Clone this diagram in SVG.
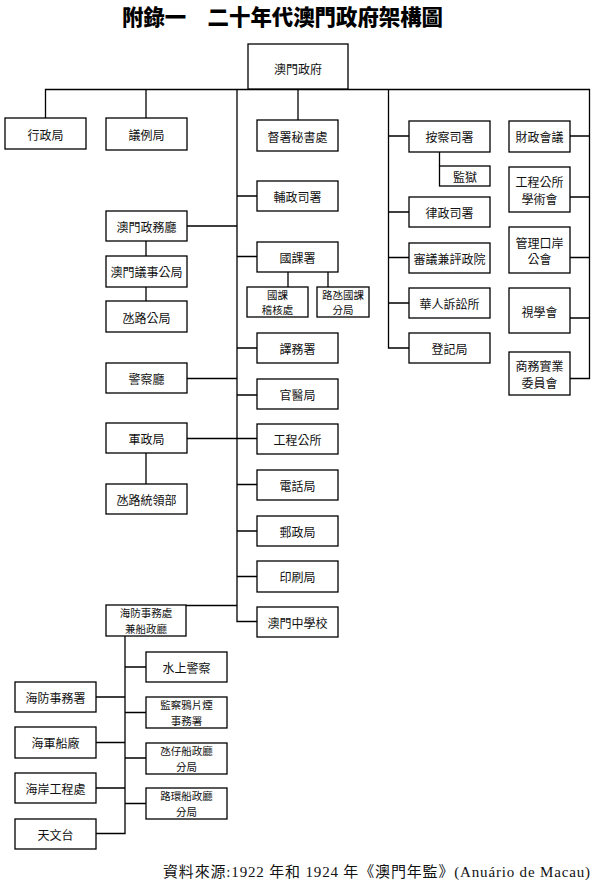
<svg xmlns="http://www.w3.org/2000/svg" width="595" height="891" viewBox="0 0 595 891">
<style>
.b{fill:#fff;stroke:#000;stroke-width:1.3}
.t{font-family:"Noto Sans CJK TC","Noto Sans CJK SC",sans-serif;font-size:12px;fill:#111;text-anchor:middle;dominant-baseline:central}
.s{font-size:10.5px}
.c{fill:none;stroke:#000;stroke-width:1.3}
</style>
<rect width="595" height="891" fill="#fff"/>
<text x="122" y="15" font-family="'Noto Sans CJK TC','Noto Sans CJK SC',sans-serif" font-size="21.5" font-weight="900" dominant-baseline="central" textLength="321" lengthAdjust="spacingAndGlyphs">附錄一　二十年代澳門政府架構圖</text>
<g id="connectors" class="c">
<path d="M45.5,118 V89.5 H589.5 V378.5 H570"/>
<path d="M146,89.5 V118"/>
<path d="M298,89.5 V120"/>
<path d="M237,89.5 V621.5 H257"/>
<path d="M388.5,89.5 V348 H409"/>
<path d="M237,196 H257 M237,256.5 H257 M237,348 H257 M237,395 H257 M187,438.5 H257 M237,484.5 H257 M237,531 H257 M237,576.5 H257"/>
<path d="M187,226 H237 M187,378.5 H237 M186,605.5 H237"/>
<path d="M146,241 V256 M146,287 V301 M146,453 V484"/>
<path d="M288,272 V287 M328,272 V287"/>
<path d="M388.5,136 H409 M388.5,212 H409 M388.5,257.5 H409 M388.5,303 H409"/>
<path d="M439.5,152 V166"/>
<path d="M570,136 H589.5 M570,197 H589.5 M570,257.5 H589.5 M570,318 H589.5"/>
<path d="M125,636 V833.5 H96 M125,667 H146 M125,712.5 H146 M125,758 H146 M125,803.5 H146 M96,697 H125 M96,742.5 H125 M96,788 H125"/>
</g>
<g id="n_gov"><rect class="b" x="248" y="44" width="100" height="45"/><text class="t" x="298" y="68" font-size="15">澳門政府</text></g>
<g id="n1"><rect class="b" x="5" y="118" width="81" height="31"/><text class="t" x="45.5" y="134">行政局</text></g>
<g id="n2"><rect class="b" x="106" y="118" width="81" height="32"/><text class="t" x="146.5" y="134">議例局</text></g>
<g id="n3"><rect class="b" x="257" y="120" width="81" height="31"/><text class="t" x="297.5" y="136">督署秘書處</text></g>
<g id="n4"><rect class="b" x="257" y="181" width="81" height="30"/><text class="t" x="297.5" y="196.5">輔政司署</text></g>
<g id="n5"><rect class="b" x="257" y="242" width="81" height="30"/><text class="t" x="297.5" y="257">國課署</text></g>
<g id="n6"><rect class="b" x="247" y="287" width="61" height="30"/><text class="t s" x="277.5" y="294.25">國課</text><text class="t s" x="277.5" y="309.75">稽核處</text></g>
<g id="n7"><rect class="b" x="317" y="287" width="52" height="30"/><text class="t s" x="343" y="294.25">路氹國課</text><text class="t s" x="343" y="309.75">分局</text></g>
<g id="n8"><rect class="b" x="106" y="211" width="81" height="30"/><text class="t" x="146.5" y="226">澳門政務廳</text></g>
<g id="n9"><rect class="b" x="106" y="256" width="81" height="31"/><text class="t" x="146.5" y="271.5">澳門議事公局</text></g>
<g id="n10"><rect class="b" x="106" y="301" width="81" height="31"/><text class="t" x="146.5" y="317">氹路公局</text></g>
<g id="n11"><rect class="b" x="257" y="333" width="81" height="30"/><text class="t" x="297.5" y="348">譯務署</text></g>
<g id="n12"><rect class="b" x="257" y="379" width="81" height="30"/><text class="t" x="297.5" y="394.5">官醫局</text></g>
<g id="n13"><rect class="b" x="257" y="424" width="81" height="30"/><text class="t" x="297.5" y="439.5">工程公所</text></g>
<g id="n14"><rect class="b" x="257" y="470" width="81" height="30"/><text class="t" x="297.5" y="485">電話局</text></g>
<g id="n15"><rect class="b" x="257" y="516" width="81" height="30"/><text class="t" x="297.5" y="531">郵政局</text></g>
<g id="n16"><rect class="b" x="257" y="561" width="81" height="31"/><text class="t" x="297.5" y="576.5">印刷局</text></g>
<g id="n17"><rect class="b" x="257" y="607" width="81" height="30"/><text class="t" x="297.5" y="622">澳門中學校</text></g>
<g id="n18"><rect class="b" x="106" y="363" width="81" height="30"/><text class="t" x="146.5" y="378.5">警察廳</text></g>
<g id="n19"><rect class="b" x="106" y="423" width="81" height="30"/><text class="t" x="146.5" y="438.5">軍政局</text></g>
<g id="n20"><rect class="b" x="106" y="484" width="81" height="30"/><text class="t" x="146.5" y="499.5">氹路統領部</text></g>
<g id="n21"><rect class="b" x="106" y="605" width="80" height="31"/><text class="t s" x="146" y="612.75">海防事務處</text><text class="t s" x="146" y="628.25">兼船政廳</text></g>
<g id="n22"><rect class="b" x="409" y="121" width="81" height="31"/><text class="t" x="449.5" y="136.5">按察司署</text></g>
<g id="n23"><rect class="b" x="439.5" y="166" width="50.5" height="20"/><text class="t" x="465" y="176.5">監獄</text></g>
<g id="n24"><rect class="b" x="409" y="197" width="81" height="30"/><text class="t" x="449.5" y="212">律政司署</text></g>
<g id="n25"><rect class="b" x="409" y="243" width="81" height="30"/><text class="t" x="449.5" y="258">審議兼評政院</text></g>
<g id="n26"><rect class="b" x="409" y="288" width="81" height="30"/><text class="t" x="449.5" y="303">華人訴訟所</text></g>
<g id="n27"><rect class="b" x="409" y="333" width="81" height="30"/><text class="t" x="449.5" y="348.5">登記局</text></g>
<g id="n28"><rect class="b" x="509" y="121" width="61" height="31"/><text class="t" x="539.5" y="136.5">財政會議</text></g>
<g id="n29"><rect class="b" x="509" y="167" width="61" height="45"/><text class="t" x="539.5" y="181.5">工程公所</text><text class="t" x="539.5" y="198">學術會</text></g>
<g id="n30"><rect class="b" x="509" y="227" width="61" height="46"/><text class="t" x="539.5" y="242">管理口岸</text><text class="t" x="539.5" y="258.5">公會</text></g>
<g id="n31"><rect class="b" x="509" y="288" width="61" height="45"/><text class="t" x="539.5" y="311">視學會</text></g>
<g id="n32"><rect class="b" x="509" y="352" width="61" height="43"/><text class="t" x="539.5" y="365.5">商務實業</text><text class="t" x="539.5" y="382">委員會</text></g>
<g id="n33"><rect class="b" x="146" y="652" width="81" height="30"/><text class="t" x="186.5" y="667">水上警察</text></g>
<g id="n34"><rect class="b" x="146" y="697" width="81" height="31"/><text class="t s" x="186.5" y="704.75">監察鴉片煙</text><text class="t s" x="186.5" y="720.25">事務署</text></g>
<g id="n35"><rect class="b" x="146" y="743" width="81" height="31"/><text class="t s" x="186.5" y="750.75">氹仔船政廳</text><text class="t s" x="186.5" y="766.25">分局</text></g>
<g id="n36"><rect class="b" x="146" y="788" width="81" height="31"/><text class="t s" x="186.5" y="795.75">路環船政廳</text><text class="t s" x="186.5" y="811.25">分局</text></g>
<g id="n37"><rect class="b" x="15" y="682" width="81" height="30"/><text class="t" x="55.5" y="697">海防事務署</text></g>
<g id="n38"><rect class="b" x="15" y="727" width="81" height="31"/><text class="t" x="55.5" y="742.5">海軍船廠</text></g>
<g id="n39"><rect class="b" x="15" y="773" width="81" height="30"/><text class="t" x="55.5" y="788">海岸工程處</text></g>
<g id="n40"><rect class="b" x="15" y="819" width="81" height="30"/><text class="t" x="55.5" y="834">天文台</text></g>
<text x="163" y="877" font-family="'Liberation Serif','Noto Sans CJK TC',serif" font-size="15" fill="#111" textLength="427" lengthAdjust="spacing">資料來源:1922 年和 1924 年《澳門年監》(Anuário de Macau)</text>
</svg>
